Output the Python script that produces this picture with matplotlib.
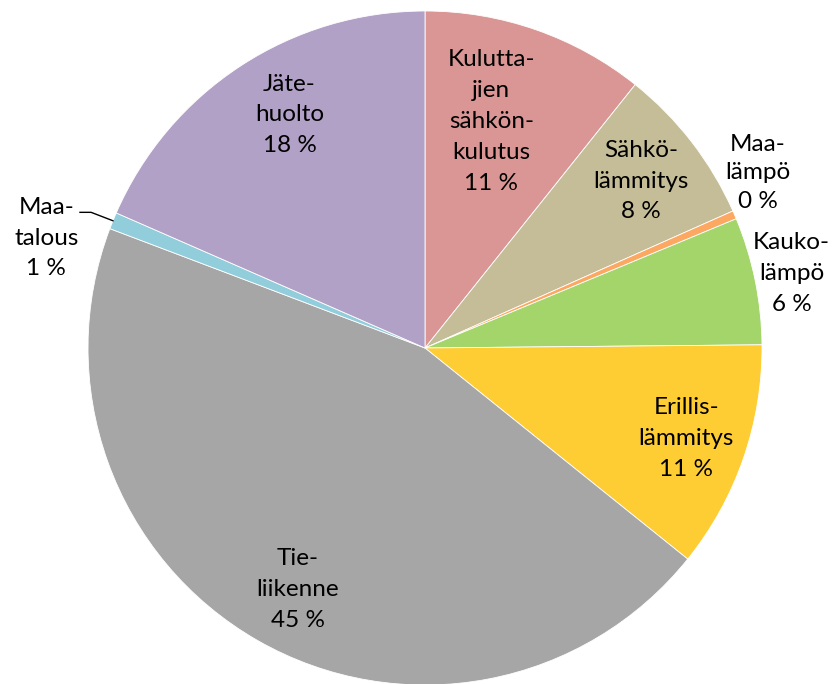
import matplotlib
matplotlib.use("Agg")
import matplotlib.pyplot as plt
import numpy as np

labels = ["Kulutta-\njien\nsähkön-\nkulutus", "Sähkö-\nlämmitys", "Maa-\nlämpö",
          "Kauko-\nlämpö", "Erillis-\nlämmitys", "Tie-\nliikenne", "Maa-\ntalous",
          "Jäte-\nhuolto"]
values = [10.7, 7.6, 0.4, 6.1, 10.9, 44.9, 0.8, 18.4]
pct_labels = ["11 %", "8 %", "0 %", "6 %", "11 %", "45 %", "1 %", "18 %"]
colors = ["#D99694", "#C4BD97", "#FCA862", "#A3D56A", "#FECC33", "#A6A6A6",
          "#92CDDC", "#B2A1C7"]

# label placement (style): radial distance and angular offset (deg) from slice middle
label_r = [0.70, 0.81, 1.115, 1.11, 0.82, 0.81, 1.17, 0.80]
label_dtheta = [3, 0, 4.5, 0, 0, 2, 6, -3]
label_ls = [1.6, 1.58, 1.45, 1.58, 1.6, 1.6, 1.55, 1.58]

plt.rcParams['font.family'] = ['Lato', 'DejaVu Sans']

fig = plt.figure(figsize=(8.33, 6.84), dpi=100)
ax = fig.add_axes([(425 - 337) / 833, (684 - 348 - 337) / 684, 674 / 833, 674 / 684])
wedges, _ = ax.pie(values, colors=colors, startangle=90, counterclock=False,
                   radius=1.0, wedgeprops=dict(edgecolor="white", linewidth=0.6))
ax.set_xlim(-1, 1)
ax.set_ylim(-1, 1)
ax.set_aspect("equal")
ax.axis("off")

for i, w in enumerate(wedges):
    mid = np.deg2rad((w.theta1 + w.theta2) / 2 + label_dtheta[i])
    r = label_r[i]
    x, y = r * np.cos(mid), r * np.sin(mid)
    ax.text(x, y, labels[i] + "\n" + pct_labels[i], ha="center", va="center",
            fontsize=17.5, color="#000000", linespacing=label_ls[i])

# leader line for Maatalous
w = wedges[6]
mid = np.deg2rad((w.theta1 + w.theta2) / 2)
p_edge = (1.0 * np.cos(mid), 1.0 * np.sin(mid))
p_elbow = (1.07 * np.cos(mid) + 0.0, 1.0 * np.sin(mid) + 0.025)
p_end = (p_elbow[0] - 0.033, p_elbow[1])
ax.plot([p_edge[0], p_elbow[0], p_end[0]], [p_edge[1], p_elbow[1], p_end[1]],
        color="black", linewidth=1.0, clip_on=False)

fig.savefig("out.png", dpi=100)
